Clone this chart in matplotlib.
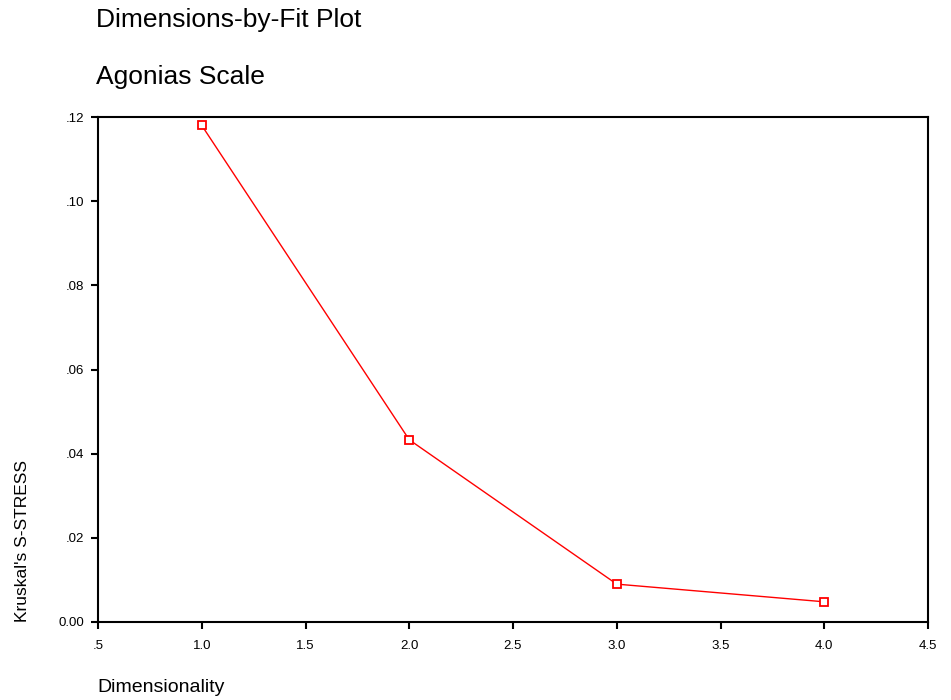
import matplotlib
matplotlib.use("Agg")
import matplotlib.pyplot as plt

# ── Data ──
dims = [1.0, 2.0, 3.0, 4.0]
stress = [0.118, 0.0433, 0.0090, 0.0048]

x_ticks = [0.5, 1.0, 1.5, 2.0, 2.5, 3.0, 3.5, 4.0, 4.5]
x_labels = [".5", "1.0", "1.5", "2.0", "2.5", "3.0", "3.5", "4.0", "4.5"]
y_ticks = [0.0, 0.02, 0.04, 0.06, 0.08, 0.10, 0.12]
y_labels = ["0.00", ".02", ".04", ".06", ".08", ".10", ".12"]

plt.rcParams["font.family"] = ["Liberation Sans", "DejaVu Sans"]

fig = plt.figure(figsize=(9.51, 7.0), dpi=100)
ax = fig.add_axes([98 / 951, 1 - 622 / 700, 830 / 951, 505 / 700])

ax.plot(dims, stress, color="red", lw=1, marker="s", ms=6,
        mfc="white", mec="red", mew=1.3)

ax.set_xlim(0.5, 4.5)
ax.set_ylim(0, 0.12)
ax.set_xticks(x_ticks)
ax.set_xticklabels(x_labels)
ax.set_yticks(y_ticks)
ax.set_yticklabels(y_labels)
ax.tick_params(direction="out", length=5, width=1.5, labelsize=9.5, pad=5)
ax.tick_params(axis="x", pad=8)
for s in ax.spines.values():
    s.set_linewidth(1.5)

fig.text(96 / 951, 1 - 20 / 700, "Dimensions-by-Fit Plot", fontsize=19,
         ha="left", va="center")
fig.text(96 / 951, 1 - 77 / 700, "Agonias Scale", fontsize=19,
         ha="left", va="center")
fig.text(97 / 951, 1 - 688 / 700, "Dimensionality", fontsize=14,
         ha="left", va="center")
fig.text(23 / 951, 1 - 622 / 700, "Kruskal's S-STRESS", fontsize=12.5,
         rotation=90, ha="center", va="bottom")

plt.savefig("out.png", dpi=100)
